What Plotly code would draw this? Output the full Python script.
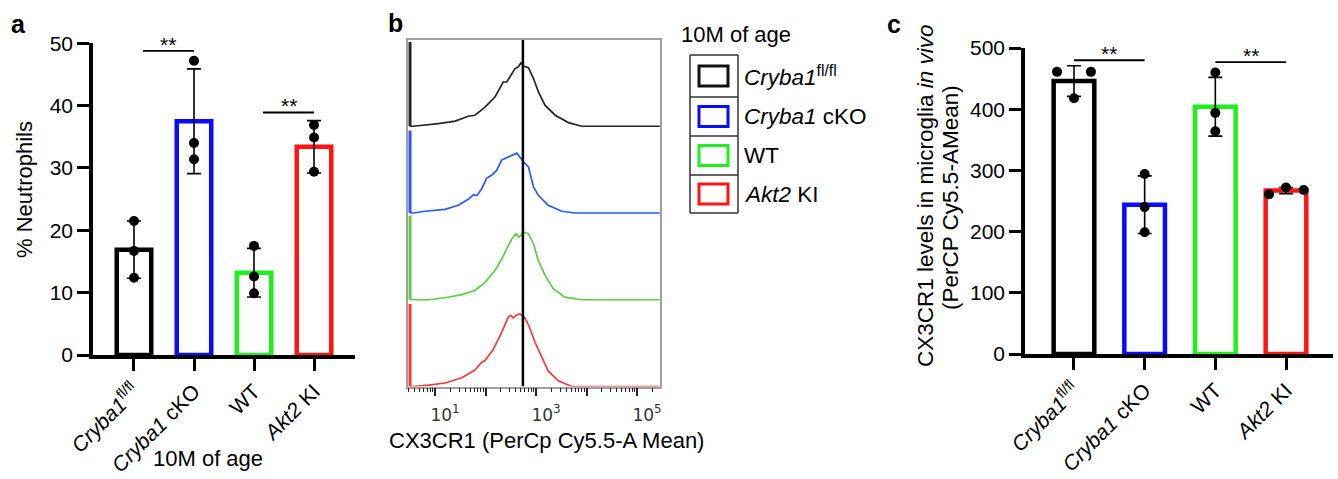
import numpy as np
import plotly.graph_objects as go

W, H = 1338, 479
FONT = "Liberation Sans, Arial, sans-serif"

# groups shared by panels a and c
groups = ["<i>Cryba1</i><sup>fl/fl</sup>", "<i>Cryba1</i> cKO", "WT", "<i>Akt2</i> KI"]
bar_colors = ["#000000", "#0a0aff", "#1ef01e", "#ff1414"]

# panel a - % neutrophils
neut_mean = [16.9, 37.5, 13.2, 33.4]
neut_sd = [4.6, 8.4, 3.9, 4.2]
neut_pts = [[21.5, 16.7, 12.4], [47.2, 34.0, 31.4], [17.5, 12.6, 9.9], [36.9, 34.9, 29.4]]
neut_sig = [(0.15, 1.0, 48.8), (2.15, 3.0, 38.9)]

# panel c - CX3CR1 MFI in microglia
cx3_mean = [446, 244, 404, 267]
cx3_sd = [25, 47, 48, 5]
cx3_pts = [[461, 418, 461], [294, 240, 199], [460, 394, 364], [261, 272, 268]]
cx3_jit = [[-0.24, 0, 0.24], [0, 0, 0], [0, 0, 0], [-0.24, 0, 0.25]]
cx3_sig = [(0.0, 1.0, 480), (2.0, 3.0, 477)]

# panel b - histograms, log10 intensity vs % of layer height
hist_names = ["Cryba1 fl/fl", "Cryba1 cKO", "WT", "Akt2 KI"]
hist_colors = ["#262626", "#2a56ff", "#5ccb45", "#f23a3a"]
spike_logx = 0.505
spike_pct = [97, 95, 97, 95]
hist_logx = [
    [0.505, 0.57, 1.065, 1.40, 1.66, 1.79, 1.99, 2.19, 2.35, 2.42, 2.485, 2.584, 2.65, 2.70,
     2.75, 2.85, 2.95, 3.045, 3.18, 3.38, 3.64, 3.905, 5.45],
    [0.505, 0.57, 0.80, 1.20, 1.46, 1.66, 1.76, 1.83, 1.925, 2.02, 2.12, 2.22, 2.32, 2.39,
     2.45, 2.52, 2.62, 2.68, 2.75, 2.85, 2.95, 3.045, 3.24, 3.51, 3.77, 5.45],
    [0.505, 0.57, 0.87, 1.20, 1.53, 1.79, 1.99, 2.19, 2.32, 2.42, 2.52, 2.60, 2.67, 2.75,
     2.85, 2.95, 3.045, 3.18, 3.34, 3.57, 3.905, 5.45],
    [0.505, 0.57, 0.87, 1.20, 1.53, 1.79, 1.925, 1.99, 2.155, 2.29, 2.39, 2.45, 2.50, 2.55,
     2.60, 2.68, 2.77, 2.86, 2.98, 3.11, 3.24, 3.44, 3.71, 5.45],
]
hist_pct = [
    [0, 0, 3, 6, 11.5, 12.7, 22, 34, 51, 51, 57, 66.5, 68.5, 73,
     69.5, 67.5, 55, 40, 24, 12.7, 4.2, 0, 0],
    [0, 0, 2, 4.2, 8.9, 15.8, 21, 20, 28, 40, 43.5, 49, 61, 63,
     64.6, 66.5, 69, 64.6, 59, 53, 30, 20.4, 8.9, 2, 0, 0],
    [0, 0, 0, 2.3, 6, 10.7, 20, 34, 47, 59, 70, 76, 72, 78,
     76, 64.6, 45, 28, 12.7, 3, 0, 0],
    [0, 0, 1.6, 4, 10, 19, 28, 30, 43, 58.5, 72, 80, 82, 79,
     82, 83.5, 80, 70, 51, 35.4, 18, 6.6, 0, 0],
]
mfi_line = 550
decades = [10, 100, 1000, 10000, 100000]
label_decades = [10, 1000, 100000]
label_text = ["10<sup>1</sup>", "10<sup>3</sup>", "10<sup>5</sup>"]


def fx(p):
    return p / W


def fy(p):
    return 1 - p / H


fig = go.Figure()


def bar_panel(xa, ya, means, sds, pts, jit, sig):
    fig.add_trace(go.Bar(
        x=list(range(4)), y=means, width=0.575, xaxis=xa, yaxis=ya,
        marker=dict(color="white", line=dict(color=bar_colors, width=4.5)),
        error_y=dict(type="data", array=sds, color="black", thickness=1.6, width=7),
        showlegend=False))
    xs, ys = [], []
    for i, vals in enumerate(pts):
        for j, v in enumerate(vals):
            xs.append(i + jit[i][j])
            ys.append(v)
    fig.add_trace(go.Scatter(
        x=xs, y=ys, mode="markers", xaxis=xa, yaxis=ya,
        marker=dict(color="black", size=10), showlegend=False))
    for x0, x1, yv in sig:
        fig.add_trace(go.Scatter(
            x=[x0, x1], y=[yv, yv], mode="lines", xaxis=xa, yaxis=ya,
            line=dict(color="black", width=1.8), showlegend=False))
        fig.add_annotation(x=(x0 + x1) / 2, y=yv, xref=xa, yref=ya, text="**",
                           showarrow=False, yanchor="bottom", yshift=-7,
                           font=dict(size=21, color="black", family=FONT))


bar_panel("x", "y", neut_mean, neut_sd, neut_pts, [[0, 0, 0]] * 4, neut_sig)
bar_panel("x3", "y3", cx3_mean, cx3_sd, cx3_pts, cx3_jit, cx3_sig)

# stacked histograms, top layer first; spike = events piled at the lowest bin
for i in range(4):
    off = 3 - i
    fig.add_trace(go.Scatter(
        x=[10 ** spike_logx] * 2, y=[off, off + spike_pct[i] / 100],
        mode="lines", xaxis="x2", yaxis="y2",
        line=dict(color=hist_colors[i], width=3), showlegend=False))
    fig.add_trace(go.Scatter(
        x=10 ** np.array(hist_logx[i]), y=off + np.array(hist_pct[i]) / 100,
        mode="lines", xaxis="x2", yaxis="y2", name=hist_names[i],
        line=dict(color=hist_colors[i], width=1.7), showlegend=False))
fig.add_trace(go.Scatter(
    x=[mfi_line, mfi_line], y=[0, 4], mode="lines", xaxis="x2", yaxis="y2",
    line=dict(color="black", width=2.5), showlegend=False))
# invisible trace so the label-only axis is drawn
fig.add_trace(go.Scatter(x=[mfi_line], y=[0], mode="markers", xaxis="x4", yaxis="y2",
                         marker=dict(opacity=0), hoverinfo="skip", showlegend=False))

cat_ax = dict(tickmode="array", tickvals=list(range(4)), ticktext=groups, tickangle=-45,
              ticks="outside", ticklen=12, tickwidth=3, tickcolor="black",
              showline=True, linewidth=3.5, linecolor="black", showgrid=False,
              zeroline=False, tickfont=dict(size=21, color="black", family=FONT),
              automargin=False, fixedrange=True)
val_ax = dict(ticks="outside", ticklen=12, tickwidth=3, tickcolor="black",
              showline=True, linewidth=3.5, linecolor="black", showgrid=False,
              zeroline=False, tickfont=dict(size=21, color="black", family=FONT),
              automargin=False, fixedrange=True)

minor_vals = [k * 10 ** d for d in range(0, 6) for k in range(2, 10)]
b_dom = [fx(407.5), fx(660)]
b_rng = [0.455, 5.455]

fig.update_layout(
    template="none",
    width=W, height=H,
    margin=dict(l=0, r=0, t=0, b=0),
    paper_bgcolor="white", plot_bgcolor="rgba(0,0,0,0)",
    font=dict(family=FONT, color="black"),
    xaxis=dict(cat_ax, domain=[fx(93), fx(355)], range=[-0.683, 3.683], anchor="y"),
    yaxis=dict(val_ax, domain=[fy(355), fy(43.3)], range=[0, 50], dtick=10, anchor="x"),
    xaxis3=dict(cat_ax, domain=[fx(1025), fx(1333)], range=[-0.693, 3.665], anchor="y3"),
    yaxis3=dict(val_ax, domain=[fy(354), fy(48)], range=[0, 500], dtick=100, anchor="x3"),
    xaxis2=dict(type="log", range=b_rng, domain=b_dom, anchor="y2",
                tickmode="array", tickvals=decades, showticklabels=False,
                ticks="outside", ticklen=8, tickwidth=2, tickcolor="#222",
                minor=dict(tickvals=minor_vals, ticks="outside", ticklen=4,
                           tickwidth=1, tickcolor="#222"),
                showline=True, mirror=True, linecolor="#a0a0a0", linewidth=1.5,
                showgrid=False, zeroline=False, automargin=False, fixedrange=True),
    xaxis4=dict(type="log", range=b_rng, domain=b_dom, anchor="y2", overlaying="x2",
                side="bottom", tickmode="array", tickvals=label_decades, ticktext=label_text,
                ticks="", showline=False, showgrid=False, zeroline=False,
                ticklabelstandoff=16, ticklabelshift=10,
                tickfont=dict(size=17, color="#333", family="DejaVu Sans"),
                automargin=False, fixedrange=True),
    yaxis2=dict(range=[0, 4], domain=[fy(386.5), fy(39.5)], anchor="x2",
                showticklabels=False, ticks="", showline=True, mirror=True,
                linecolor="#a0a0a0", linewidth=1.5, showgrid=False, zeroline=False,
                automargin=False, fixedrange=True),
)


# text labels
def note(x, y, text, size=21, angle=0, bold=False, xanchor="center"):
    if bold:
        text = "<b>" + text + "</b>"
    fig.add_annotation(x=fx(x), y=fy(y), xref="paper", yref="paper", text=text,
                       showarrow=False, textangle=angle, xanchor=xanchor, yanchor="middle",
                       font=dict(size=size, color="black", family=FONT))


note(18, 24, "a", size=25, bold=True)
note(395, 23, "b", size=25, bold=True)
note(894, 24, "c", size=25, bold=True)
note(25, 190, "% Neutrophils", size=22, angle=-90)
note(208, 458, "10M of age", size=22)
note(546, 440, "CX3CR1 (PerCp Cy5.5-A Mean)", size=22)
note(925, 196, "CX3CR1 levels in microglia <i>in vivo</i>", size=22.5, angle=-90)
note(950, 198, "(PerCP Cy5.5-AMean)", size=22.5, angle=-90)

# legend of panel b: boxed swatches, labels outside the box
note(736, 35, "10M of age", size=22)
row_edges = [55, 97, 136, 175, 213]
lg_left, lg_right = 690, 738
for xv in (lg_left, lg_right):
    fig.add_shape(type="line", x0=fx(xv), x1=fx(xv), y0=fy(row_edges[0]), y1=fy(row_edges[-1]),
                  xref="paper", yref="paper", line=dict(color="#333", width=1.5))
for e in row_edges:
    fig.add_shape(type="line", x0=fx(lg_left), x1=fx(lg_right), y0=fy(e), y1=fy(e),
                  xref="paper", yref="paper", line=dict(color="#333", width=1.5))
for i in range(4):
    yc = (row_edges[i] + row_edges[i + 1]) / 2
    fig.add_shape(type="rect", x0=fx(699), x1=fx(728), y0=fy(yc - 10), y1=fy(yc + 10),
                  xref="paper", yref="paper",
                  line=dict(color=bar_colors[i] if i else "#111", width=3), fillcolor="white")
    note(742, yc, groups[i], size=22.5, xanchor="left")

fig.write_html("out.html", config={"displayModeBar": False},
               post_script="document.body.style.margin='0';")
